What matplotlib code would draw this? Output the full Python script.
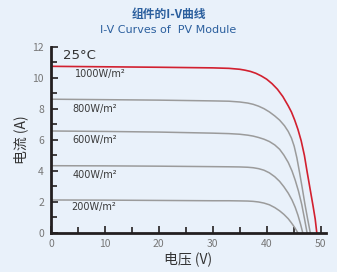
import matplotlib
matplotlib.use("Agg")
import matplotlib.pyplot as plt
from matplotlib.ticker import MultipleLocator

plt.rcParams['font.family'] = ['Noto Sans CJK SC', 'DejaVu Sans']

# I-V curves (voltage V, current A)
v_1000 = [0, 10, 20, 30, 33, 35, 36, 37, 38, 39, 40, 41, 42, 43, 44, 44.6, 45.2, 45.8, 46.4, 47.0, 47.5, 48.0, 48.6, 49.0, 49.3]
i_1000 = [10.75, 10.72, 10.69, 10.65, 10.62, 10.56, 10.5, 10.42, 10.3, 10.13, 9.92, 9.63, 9.27, 8.8, 8.2, 7.8, 7.28, 6.68, 5.95, 5.0, 3.95, 2.95, 1.75, 0.9, 0.0]

v_800 = [0, 10, 20, 30, 33, 35, 36.5, 37.5, 38.5, 39.5, 40.5, 41.5, 42.4, 43.3, 44.0, 44.6, 45.1, 45.6, 46.1, 46.6, 47.1, 47.6, 48.1]
i_800 = [8.63, 8.6, 8.57, 8.52, 8.5, 8.45, 8.38, 8.3, 8.18, 8.02, 7.81, 7.55, 7.28, 6.92, 6.55, 6.12, 5.6, 4.85, 3.9, 2.9, 1.85, 0.9, 0.0]

v_600 = [0, 10, 20, 30, 33, 35, 36.5, 37.5, 38.5, 39.5, 40.5, 41.5, 42.4, 43.2, 44.0, 44.7, 45.3, 45.9, 46.5, 47.0, 47.5]
i_600 = [6.58, 6.55, 6.51, 6.44, 6.41, 6.37, 6.31, 6.25, 6.16, 6.05, 5.9, 5.68, 5.4, 5.02, 4.55, 4.0, 3.4, 2.7, 1.85, 0.95, 0.0]

v_400 = [0, 10, 20, 30, 33, 35, 36.5, 37.5, 38.5, 39.5, 40.5, 41.5, 42.4, 43.2, 44.0, 44.7, 45.3, 45.8, 46.3, 46.7]
i_400 = [4.34, 4.33, 4.31, 4.28, 4.27, 4.26, 4.24, 4.21, 4.15, 4.05, 3.88, 3.63, 3.33, 2.98, 2.57, 2.13, 1.65, 1.15, 0.55, 0.0]

v_200 = [0, 10, 20, 30, 33, 35, 36.5, 37.5, 38.5, 39.5, 40.5, 41.5, 42.4, 43.2, 44.0, 44.6, 45.2, 45.6, 45.8]
i_200 = [2.13, 2.12, 2.1, 2.08, 2.08, 2.07, 2.06, 2.04, 2.0, 1.93, 1.82, 1.64, 1.43, 1.2, 0.92, 0.65, 0.35, 0.12, 0.0]

labels = ['1000W/m²', '800W/m²', '600W/m²', '400W/m²', '200W/m²']
label_x = [4.4, 4.0, 4.0, 4.0, 3.8]
label_y = [10.26, 8.0, 6.0, 3.74, 1.68]

bg = '#e9f1fa'
blue = '#2b5f9e'
gray = '#9b9b9b'
red = '#d2202f'

fig = plt.figure(figsize=(3.37, 2.72), dpi=100, facecolor=bg)
ax = fig.add_axes([0.1513, 0.1434, 0.816, 0.684])
ax.set_facecolor(bg)

ax.plot(v_200, i_200, color=gray, lw=1.1)
ax.plot(v_400, i_400, color=gray, lw=1.1)
ax.plot(v_600, i_600, color=gray, lw=1.1)
ax.plot(v_800, i_800, color=gray, lw=1.1)
ax.plot(v_1000, i_1000, color=red, lw=1.2)

for t, x, y in zip(labels, label_x, label_y):
    ax.text(x, y, t, fontsize=7, color='#3a3a3a', va='center', ha='left', family=['DejaVu Sans'])

ax.text(2.2, 11.45, '25°C', fontsize=9.5, color='#333333', va='center', ha='left', family=['DejaVu Sans'])

ax.set_xlim(0, 51)
ax.set_ylim(0, 12)
ax.xaxis.set_major_locator(MultipleLocator(10))
ax.xaxis.set_minor_locator(MultipleLocator(5))
ax.yaxis.set_major_locator(MultipleLocator(2))
ax.yaxis.set_minor_locator(MultipleLocator(1))
ax.tick_params(which='both', direction='in', color='#231f20', width=1.2, labelsize=7.5, labelcolor='#777777')
ax.tick_params(axis='y', pad=5)
ax.tick_params(axis='x', pad=4)
ax.tick_params(which='major', length=5)
ax.tick_params(which='minor', length=4)
for s in ['top', 'right']:
    ax.spines[s].set_visible(False)
for s in ['left', 'bottom']:
    ax.spines[s].set_color('#231f20')
    ax.spines[s].set_linewidth(2)

ax.set_xlabel('电压 (V)', fontsize=10, color='#333333', labelpad=2)
ax.set_ylabel('电流 (A)', fontsize=10, color='#333333', labelpad=3)

fig.text(0.5, 0.945, '组件的I-V曲线', fontsize=8.5, color=blue, ha='center', va='center', weight='bold')
fig.text(0.5, 0.89, 'I-V Curves of  PV Module', fontsize=8, color=blue, ha='center', va='center', family=['DejaVu Sans'])

fig.savefig('out.png', dpi=100, facecolor=bg)
